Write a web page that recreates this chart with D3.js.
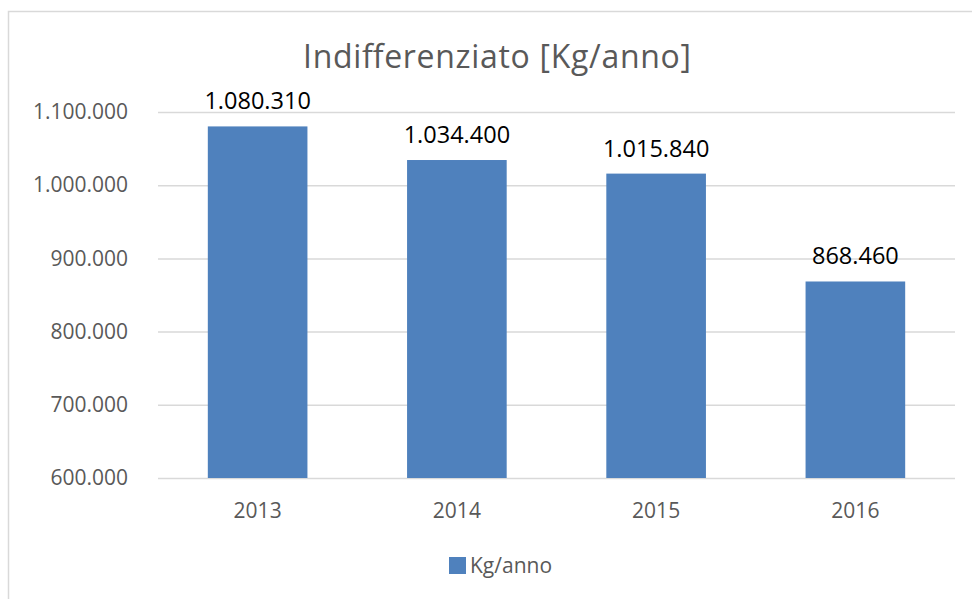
<!DOCTYPE html>
<html>
<head>
<meta charset="utf-8">
<script src="https://cdn.jsdelivr.net/npm/d3@7"></script>
<style>
  body { margin: 0; background: #fff; }
  svg { display: block; font-family: "Open Sans", sans-serif; }
</style>
</head>
<body>
<svg id="chart" width="972" height="599"></svg>
<script>
// data
const years = ["2013", "2014", "2015", "2016"];
const values = [1080310, 1034400, 1015840, 868460];
const yTicks = [600000, 700000, 800000, 900000, 1000000, 1100000];
const seriesName = "Kg/anno";
const title = "Indifferenziato [Kg/anno]";

const data = years.map((y, i) => ({ year: y, value: values[i] }));

// italian style thousands
const fmt = d3.formatLocale({ decimal: ",", thousands: ".", grouping: [3], currency: ["", "€"] }).format(",d");

let svg = d3.select("svg#chart"),
  margin = { top: 112, right: 17, bottom: 121, left: 158 },
  width = +svg.attr("width") - margin.left - margin.right,
  height = +svg.attr("height") - margin.top - margin.bottom;

// chart frame
svg.append("rect")
  .attr("x", 8.5).attr("y", 11.5)
  .attr("width", 990).attr("height", 620)
  .attr("fill", "none").attr("stroke", "#d9d9d9").attr("stroke-width", 1.5);

let xScale = d3.scaleBand().domain(years).range([0, width]).paddingInner(0.5).paddingOuter(0.25),
  yScale = d3.scaleLinear().domain([600000, 1100000]).range([height, 0]);

let g = svg.append("g")
  .attr("transform", "translate(" + margin.left + "," + margin.top + ")");

// grid
const grid = g.append("g")
  .call(d3.axisLeft(yScale).tickValues(yTicks).tickSize(-width).tickFormat(""));
grid.select(".domain").remove();
grid.selectAll("line").attr("stroke", "#d9d9d9").attr("stroke-width", 1.5);

// y axis labels
const yAxis = g.append("g")
  .call(d3.axisLeft(yScale).tickValues(yTicks).tickSize(0).tickPadding(30).tickFormat(fmt));
yAxis.select(".domain").remove();
yAxis.selectAll("text")
  .attr("fill", "#595959").style("font-size", "21px").style("font-family", "Open Sans");

// x axis labels
const xAxis = g.append("g")
  .attr("transform", "translate(0," + height + ")")
  .call(d3.axisBottom(xScale).tickSize(0).tickPadding(25));
xAxis.select(".domain").remove();
xAxis.selectAll("text")
  .attr("fill", "#595959").style("font-size", "21px").style("font-family", "Open Sans");

// bars
g.selectAll(".bar")
  .data(data)
  .enter()
  .append("rect")
  .attr("class", "bar")
  .attr("fill", "#4f81bd")
  .attr("x", d => xScale(d.year))
  .attr("y", d => yScale(d.value))
  .attr("width", xScale.bandwidth())
  .attr("height", d => height - yScale(d.value));

// value labels
g.selectAll(".lbl")
  .data(data)
  .enter()
  .append("text")
  .attr("class", "lbl")
  .attr("x", d => xScale(d.year) + xScale.bandwidth() / 2)
  .attr("y", d => yScale(d.value) - 17)
  .attr("text-anchor", "middle")
  .attr("fill", "#000")
  .style("font-size", "23.5px")
  .text(d => fmt(d.value));

// title
svg.append("text")
  .attr("x", 497).attr("y", 68)
  .attr("text-anchor", "middle")
  .attr("fill", "#595959")
  .style("font-size", "32px")
  .attr("textLength", 388)
  .attr("lengthAdjust", "spacing")
  .text(title);

// legend
const leg = svg.append("g").attr("transform", "translate(449,557)");
leg.append("rect").attr("width", 17).attr("height", 17).attr("fill", "#4f81bd");
leg.append("text")
  .attr("x", 21).attr("y", 8.5).attr("dy", "0.35em")
  .attr("fill", "#595959").style("font-size", "21px")
  .text(seriesName);
</script>
</body>
</html>
